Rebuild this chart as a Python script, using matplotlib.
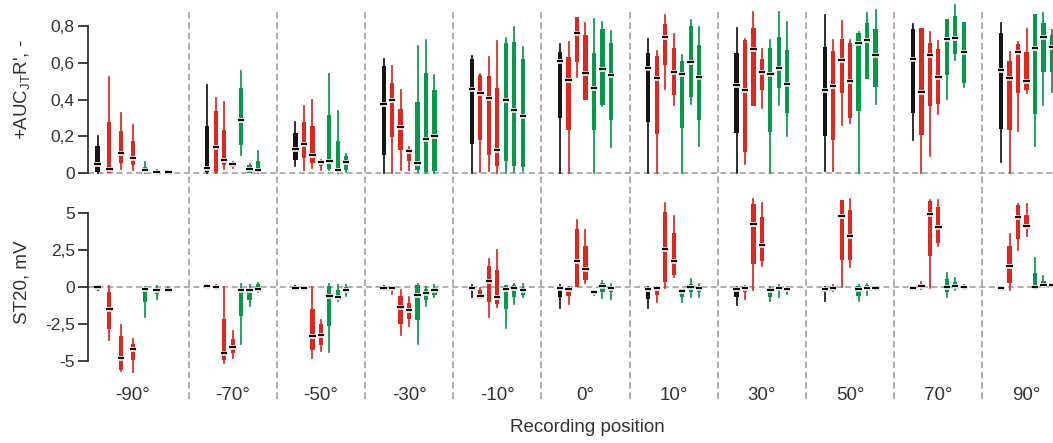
import numpy as np
import matplotlib
matplotlib.use("Agg")
import matplotlib.pyplot as plt
from matplotlib.lines import Line2D
from matplotlib import transforms
import matplotlib.patheffects as pe

plt.rcParams['font.family'] = ['Liberation Sans', 'DejaVu Sans']
plt.rcParams['mathtext.fontset'] = 'custom'
plt.rcParams['mathtext.rm'] = 'Liberation Sans'
plt.rcParams['mathtext.it'] = 'Liberation Sans'
plt.rcParams['lines.scale_dashes'] = False

positions_deg = ["-90°", "-70°", "-50°", "-30°", "-10°", "0°", "10°", "30°", "50°", "70°", "90°"]
series_colors = ["#141414", "#e0271e", "#e0271e", "#e0271e", "#07994a", "#07994a", "#07994a"]

# +AUC_JT R'  -- per group: [black, red1, red2, red3, green1, green2, green3]
# each box: (whislo, q1, med, q3, whishi)
auc = [
    [(0, .005, .05, .145, .20), (0, 0, .02, .275, .52), (.02, .055, .11, .23, .325), (.015, .045, .08, .175, .26),
     (0, .005, .015, .035, .06), (0, 0, .003, .008, .018), (0, .002, .005, .008, .01)],
    [(0, .005, .027, .255, .48), (0, .005, .14, .34, .41), (.02, .045, .072, .235, .385), (.027, .035, .049, .055, .06),
     (.10, .15, .29, .46, .557), (0, 0, .024, .045, .049), (0, .005, .015, .067, .118)],
    [(.04, .072, .132, .217, .275), (.018, .08, .16, .275, .362), (.027, .054, .10, .257, .395), (.018, .036, .06, .067, .072),
     (.015, .022, .063, .313, .54), (0, .003, .015, .175, .335), (.003, .018, .06, .09, .103)],
    [(0, .10, .376, .583, .62), (0, .195, .395, .49, .58), (.015, .127, .248, .35, .452), (.015, .063, .118, .132, .14),
     (.004, .015, .054, .384, .69), (0, .003, .185, .543, .724), (0, .01, .203, .452, .534)],
    [(0, .16, .458, .62, .637), (.004, .18, .434, .534, .54), (.01, .10, .407, .528, .63), (0, .036, .127, .461, .718),
     (0, .063, .398, .706, .733), (.004, .036, .344, .711, .796), (.01, .033, .308, .62, .684)],
    [(0, .30, .612, .66, .70), (0, .232, .507, .633, .711), (.525, .606, .764, .847, .85), (.398, .398, .543, .751, .818),
     (0, .235, .461, .652, .838), (.362, .371, .565, .784, .82), (.139, .29, .534, .706, .775)],
    [(0, .277, .57, .655, .728), (0, .212, .516, .637, .664), (.456, .588, .738, .81, .86), (.371, .425, .547, .682, .755),
     (0, .244, .538, .612, .643), (.376, .416, .606, .80, .833), (.145, .29, .521, .697, .793)],
    [(0, .217, .48, .652, .787), (.05, .112, .449, .724, .728), (.366, .366, .675, .787, .878), (.353, .449, .552, .62, .673),
     (0, .221, .539, .679, .724), (.371, .461, .574, .738, .874), (.203, .326, .483, .67, .824)],
    [(.01, .203, .452, .688, .86), (.01, .18, .474, .666, .724), (.262, .438, .615, .728, .829), (.272, .30, .503, .706, .724),
     (0, .335, .71, .76, .77), (.51, .51, .724, .818, .869), (.376, .47, .643, .784, .887)],
    [(.181, .329, .619, .782, .811), (0, .208, .443, .787, .787), (.09, .362, .643, .71, .766), (.322, .376, .525, .675, .72),
     (.402, .534, .73, .836, .838), (.615, .648, .737, .854, .914), (.467, .492, .66, .82, .824)],
    [(.06, .239, .561, .76, .815), (0, .235, .519, .61, .66), (.226, .438, .66, .70, .715), (.434, .449, .503, .66, .782),
     (.145, .322, .679, .863, .865), (.371, .552, .742, .818, .872), (.44, .552, .688, .75, .78)],
]

# ST20, mV
st20 = [
    [(-.23, -.12, 0, .05, .07), (-3.62, -2.88, -1.5, -.35, .07), (-5.7, -5.65, -4.79, -3.34, -2.58), (-5.76, -4.95, -4.19, -3.87, -3.53),
     (-2.03, -1.04, -.12, -.05, 0), (-.81, -.46, -.18, -.12, .05), (-.28, -.28, -.18, -.05, 0)],
    [(-.07, -.05, .05, .09, .12), (-.07, -.05, 0, .02, .16), (-5.18, -4.95, -4.49, -2.19, 0), (-4.79, -4.49, -4.08, -3.5, -3.0),
     (-3.85, -1.96, -.18, -.07, .18), (-1.31, -.85, -.23, -.16, .12), (-.35, -.3, -.16, .18, .28)],
    [(-.14, -.12, -.05, .02, .05), (-.09, -.09, -.05, -.02, -.02), (-4.79, -4.26, -3.34, -1.5, 0), (-4.33, -3.96, -3.27, -2.53, -2.26),
     (-4.38, -2.65, -.58, .05, .18), (-.97, -.81, -.65, -.23, .12), (-.58, -.41, -.23, 0, .12)],
    [(-.18, -.16, -.07, .02, .05), (-.46, -.23, -.05, 0, .02), (-3.27, -2.53, -1.38, -.58, -.18), (-2.65, -2.19, -1.54, -1.1, -.65),
     (-3.85, -2.26, -.51, .12, .23), (-1.27, -.88, -.39, -.12, 0), (-.69, -.51, -.23, -.05, .12)],
    [(-.69, -.23, -.05, .09, .12), (-.83, -.81, -.58, -.18, -.05), (-2.03, -1.04, .41, 1.43, 1.89), (-1.34, -1.15, -.65, 1.15, 2.53),
     (-2.76, -1.5, -.12, .12, .16), (-1.15, -.69, -.05, .12, .23), (-.69, -.51, -.18, -.05, .18)],
    [(-1.43, -.69, -.05, 0, .12), (-1.15, -.58, -.12, -.07, 0), (0, 0, 1.73, 3.92, 4.56), (.28, .46, 1.22, 2.81, 3.87),
     (-.51, -.46, -.35, -.23, -.18), (-.74, -.35, .05, .28, .41), (-.81, -.35, -.07, .05, .18)],
    [(-1.45, -.81, -.12, -.07, 0), (-.99, -.53, -.05, -.05, 0), (-.07, .35, 2.6, 5.07, 5.71), (.69, .81, 1.73, 3.69, 4.84),
     (-.99, -.69, -.28, -.16, -.12), (-.69, -.35, 0, .23, .51), (-.69, -.35, -.07, .1, .18)],
    [(-1.2, -.65, -.16, -.05, 0), (-.81, -.35, -.05, 0, .05), (-.18, 1.57, 4.26, 5.65, 5.99), (1.43, 1.73, 2.83, 4.72, 5.71),
     (-.97, -.69, -.18, -.07, 0), (-.69, -.23, -.07, .07, .16), (-.46, -.23, -.14, -.05, 0)],
    [(-.92, -.35, -.12, -.05, 0), (-.3, -.23, -.05, 0, .16), (0, 1.84, 4.84, 5.88, 5.9), (1.34, 1.8, 3.46, 5.25, 5.94),
     (-.92, -.58, -.16, .05, .12), (-.53, -.23, -.05, .12, .18), (-.23, -.12, -.05, 0, .02)],
    [(-.12, -.09, -.05, 0, .02), (-.12, 0, .07, .23, .35), (-.07, 2.07, 4.95, 5.81, 5.88), (2.81, 3.0, 4.1, 5.41, 5.88),
     (-.65, -.35, 0, .51, .97), (-.23, -.12, .05, .35, .58), (-.12, -.07, 0, .07, .12)],
    [(-.14, -.12, -.07, -.02, 0), (-.18, .28, 1.43, 2.81, 3.57), (2.49, 3.27, 4.72, 5.53, 5.65), (3.46, 3.92, 4.15, 4.88, 5.65),
     (-.05, -.05, 0, .97, 1.96), (-.05, -.05, .12, .41, .74), (0, 0, .12, .18, .23)],
]

auc_ticks = [0, 0.2, 0.4, 0.6, 0.8]
auc_ticklabels = ["0", "0,2", "0,4", "0,6", "0,8"]
st_ticks = [-5, -2.5, 0, 2.5, 5]
st_ticklabels = ["-5", "-2,5", "0", "2,5", "5"]

# layout
W, H = 1053, 443
centers = np.arange(len(positions_deg), dtype=float)
centers[0] = -0.13
spacing = np.full(len(positions_deg), 0.096)
spacing[0] = 0.134
box_w = 0.048
med_hw = 0.036
ink = "#333333"
grid_c = "#a8a8a8"

fig = plt.figure(figsize=(W / 100, H / 100), dpi=100)
L = 88 / W
ax1 = fig.add_axes([L, (H - 185) / H, 1 - L, 185 / H])
ax2 = fig.add_axes([L, (H - 375) / H, 1 - L, 180 / H])


def draw_panel(ax, data):
    for g, boxes in enumerate(data):
        pos = centers[g] + (np.arange(7) - 3) * spacing[g]
        stats = [dict(whislo=b[0], q1=b[1], med=b[2], q3=b[3], whishi=b[4]) for b in boxes]
        art = ax.bxp(stats, positions=pos, widths=box_w, patch_artist=True,
                     showcaps=False, showfliers=False, manage_ticks=False,
                     whiskerprops=dict(linewidth=1.25), medianprops=dict(visible=False),
                     boxprops=dict(linewidth=0))
        for k in range(7):
            c = series_colors[k]
            art['boxes'][k].set_facecolor(c)
            art['boxes'][k].set_edgecolor(c)
            art['boxes'][k].set_zorder(3)
            for wl in art['whiskers'][2 * k:2 * k + 2]:
                wl.set_color(c)
                wl.set_zorder(2)
        meds = [b[2] for b in boxes]
        ax.hlines(meds, pos - med_hw, pos + med_hw, colors="black", lw=1.5, zorder=5,
                  path_effects=[pe.withStroke(linewidth=3.4, foreground="#e4e4e4")])
    ax.axhline(0, color=grid_c, lw=1.3, ls=(0, (4.3, 2.6)), zorder=0)


draw_panel(ax1, auc)
draw_panel(ax2, st20)

xlim = (-0.64, 10.30)
for ax in (ax1, ax2):
    ax.set_xlim(*xlim)
    ax.patch.set_visible(False)
    for s in ("top", "right", "bottom"):
        ax.spines[s].set_visible(False)
    ax.spines["left"].set_color(ink)
    ax.spines["left"].set_linewidth(1.3)
    ax.tick_params(axis="y", direction="out", length=7.5, width=1.3, color=ink,
                   labelsize=12.5, labelcolor=ink, pad=2)

ax1.set_ylim(-0.0653, 0.9415)
ax1.spines["left"].set_bounds(0, 0.8)
ax1.set_yticks(auc_ticks, auc_ticklabels)
ax1.set_xticks([])

ax2.set_ylim(-5.97, 6.24)
ax2.spines["left"].set_bounds(-5, 5)
ax2.set_yticks(st_ticks, st_ticklabels)
ax2.set_xticks(centers, positions_deg)
ax2.tick_params(axis="x", length=0, labelsize=13.5, labelcolor=ink, pad=9)

# group separators across both panels
tr = transforms.blended_transform_factory(ax1.transData, fig.transFigure)
for xs in np.arange(len(positions_deg) - 1) + 0.5:
    fig.add_artist(Line2D([xs, xs], [(H - 12) / H, (H - 400) / H], transform=tr,
                          color=grid_c, lw=1.3, ls=(0, (4.8, 2.6)), zorder=-1))

fig.text(22 / W, 1 - 90 / H, "+AUC$_{\\mathrm{JT}}$R', -", rotation=90, ha="center", va="center",
         fontsize=13.5, color=ink)
fig.text(22 / W, 1 - 282 / H, "ST20, mV", rotation=90, ha="center", va="center",
         fontsize=13.5, color=ink)
fig.text(587 / W, 1 - 428 / H, "Recording position", ha="center", va="center",
         fontsize=13.5, color=ink)

fig.savefig("out.png", dpi=100)
